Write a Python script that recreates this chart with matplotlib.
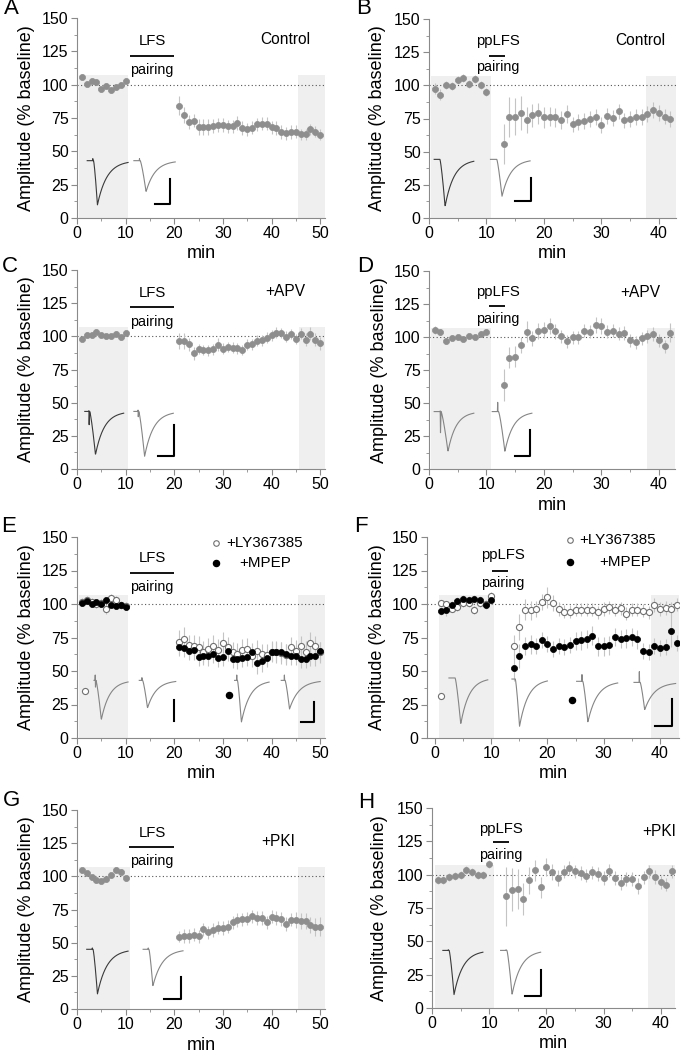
import numpy as np
import matplotlib.pyplot as plt
from matplotlib.ticker import MultipleLocator

plt.rcParams['font.family'] = ['Liberation Sans', 'DejaVu Sans']

# ---- data: EPSC amplitude (% baseline), mean and s.e.m. ----
# A: LFS pairing, control
a_t = np.r_[1:11, 21:51]
a_amp = [105.8, 100.8, 103.0, 102.3, 96.5, 99.3, 96.0, 98.3, 100.0, 103.0,
         84.3, 77.0, 72.0, 73.0, 68.3, 68.0, 68.0, 69.0, 69.8, 69.8,
         68.8, 68.8, 71.3, 67.5, 66.5, 67.8, 70.3, 70.8, 70.8, 68.0,
         67.5, 64.5, 63.5, 64.5, 64.8, 62.8, 62.8, 66.5, 64.8, 62.5]
a_err = [2, 2, 2, 2, 2, 2, 2, 2, 2, 2,
         7, 6, 5, 5, 6, 6, 6, 5, 5, 5,
         5, 5, 5, 5, 5, 5, 5, 5, 5, 5,
         5, 5, 5, 5, 5, 4, 4, 4, 4, 4]

# B: ppLFS pairing, control
b_t = np.r_[1:11, 13:43]
b_amp = [97.5, 93.0, 100.5, 99.8, 103.8, 105.5, 101.3, 104.8, 100.0, 94.8,
         56.0, 76.3, 76.3, 79.3, 73.8, 77.3, 78.8, 76.0, 76.3, 75.8,
         74.0, 78.5, 70.5, 72.3, 73.3, 74.3, 76.0, 69.8, 76.8, 75.3,
         80.3, 73.5, 74.8, 76.0, 75.8, 78.3, 81.3, 78.8, 76.5, 74.8]
b_err = [4, 4, 3, 3, 3, 3, 3, 3, 3, 3,
         15, 15, 14, 13, 10, 9, 8, 8, 7, 7,
         7, 7, 6, 6, 6, 6, 6, 6, 6, 6,
         6, 6, 6, 6, 6, 6, 6, 6, 6, 6]

# C: LFS pairing, +APV
c_t = np.r_[1:11, 21:51]
c_amp = [98.3, 101.0, 101.0, 103.6, 101.0, 100.0, 100.0, 102.0, 99.6, 102.3,
         96.8, 96.8, 94.0, 87.3, 90.5, 89.8, 89.5, 90.3, 93.6, 90.8,
         92.0, 91.5, 91.0, 89.8, 93.8, 94.0, 96.8, 97.0, 99.0, 100.8,
         102.8, 102.6, 99.8, 101.8, 98.0, 102.0, 97.5, 102.0, 97.5, 94.8]
c_err = [2, 2, 2, 2, 2, 2, 2, 2, 2, 2,
         6, 6, 5, 5, 4, 4, 4, 4, 5, 4,
         4, 4, 4, 4, 4, 4, 4, 4, 4, 4,
         4, 4, 4, 4, 4, 4, 5, 5, 5, 5]

# D: ppLFS pairing, +APV
d_t = np.r_[1:11, 13:43]
d_amp = [105.2, 103.7, 96.9, 99.4, 99.7, 98.7, 100.4, 100.2, 102.5, 103.7,
         63.4, 84.3, 85.0, 93.9, 104.0, 98.9, 104.7, 105.2, 108.2, 104.2,
         100.4, 96.6, 99.9, 99.9, 104.7, 104.0, 109.0, 108.2, 104.0, 104.7,
         102.5, 103.0, 97.6, 95.9, 99.0, 100.4, 102.2, 97.4, 92.9, 103.4]
d_err = [3, 2, 2, 2, 2, 2, 2, 2, 2, 2,
         12, 8, 8, 6, 8, 6, 6, 6, 6, 6,
         5, 5, 5, 5, 5, 5, 6, 6, 5, 5,
         5, 5, 5, 5, 5, 5, 5, 5, 5, 7]

# E: LFS pairing, +LY367385 (open) and +MPEP (filled)
e_t = np.r_[1:11, 21:51]
e_ly = [101.2, 103.2, 101.2, 100.2, 100.7, 96.3, 104.5, 102.7, 99.5, 98.8,
        71.9, 73.6, 69.2, 68.9, 67.9, 64.2, 66.4, 68.7, 65.9, 71.1,
        67.7, 63.9, 62.7, 65.7, 66.7, 61.0, 65.2, 62.4, 62.2, 64.4,
        64.2, 63.4, 62.2, 67.7, 65.2, 68.4, 64.4, 71.1, 68.4, 63.9]
e_ly_err = [3, 3, 3, 3, 3, 4, 3, 3, 3, 3,
            9, 9, 8, 8, 8, 8, 8, 8, 8, 8,
            8, 8, 8, 8, 8, 8, 8, 8, 8, 8,
            8, 8, 8, 8, 8, 8, 8, 8, 8, 8]
e_mpep = [100.7, 102.0, 100.0, 101.2, 100.0, 102.7, 99.2, 98.8, 99.5, 97.8,
          67.9, 67.4, 65.2, 65.4, 60.7, 61.4, 61.0, 62.9, 59.7, 60.4,
          64.7, 59.2, 58.7, 60.0, 60.4, 64.2, 56.0, 57.2, 59.7, 64.4,
          64.4, 64.4, 62.9, 61.4, 61.4, 59.0, 59.0, 61.0, 61.0, 64.7]
e_mpep_err = [2, 2, 2, 2, 2, 2, 2, 2, 2, 2,
              7, 7, 7, 7, 7, 7, 7, 7, 7, 7,
              7, 7, 7, 7, 7, 7, 8, 8, 7, 7,
              7, 7, 7, 7, 7, 7, 7, 7, 7, 7]

# F: ppLFS pairing, +LY367385 (open) and +MPEP (filled)
f_t = np.r_[1:11, 14:44]
f_ly = [100.5, 100.0, 96.3, 98.0, 101.0, 101.0, 95.5, 101.0, 100.0, 106.0,
        68.9, 82.8, 95.8, 95.3, 96.3, 101.7, 105.0, 100.7, 96.3, 94.3,
        94.3, 95.8, 95.8, 95.8, 95.8, 93.8, 96.3, 97.5, 95.8, 96.8,
        92.8, 95.8, 95.8, 95.0, 93.8, 99.3, 96.3, 97.0, 96.3, 99.5]
f_ly_err = [2, 2, 2, 3, 3, 3, 3, 3, 3, 3,
            8, 10, 8, 7, 6, 6, 8, 6, 5, 5,
            5, 5, 5, 5, 5, 5, 5, 5, 5, 5,
            5, 5, 5, 5, 5, 5, 5, 5, 5, 5]
f_mpep = [94.8, 95.3, 99.3, 102.0, 103.7, 102.7, 103.7, 103.2, 99.0, 103.2,
          52.5, 61.0, 68.7, 69.9, 68.4, 72.9, 70.1, 66.7, 68.4, 68.2,
          69.2, 72.4, 72.9, 73.9, 76.4, 68.4, 68.4, 69.2, 75.4, 73.9,
          74.4, 75.4, 73.6, 65.2, 64.2, 68.4, 66.9, 67.9, 79.6, 71.1]
f_mpep_err = [3, 4, 3, 3, 3, 3, 3, 3, 3, 3,
              10, 9, 7, 7, 6, 6, 6, 6, 6, 6,
              6, 7, 7, 7, 7, 7, 7, 7, 7, 7,
              7, 7, 7, 6, 6, 6, 6, 6, 12, 6]

# G: LFS pairing, +PKI
g_t = np.r_[1:11, 21:51]
g_amp = [104.5, 102.3, 99.2, 97.2, 96.7, 97.7, 100.8, 104.8, 103.5, 98.7,
         54.5, 55.0, 55.0, 56.0, 54.8, 60.0, 57.8, 59.5, 61.3, 61.0,
         62.0, 65.3, 67.0, 67.5, 68.2, 69.8, 68.6, 68.6, 65.3, 69.6,
         68.6, 67.8, 64.0, 67.3, 66.8, 66.6, 66.3, 63.3, 61.8, 62.0]
g_err = [2, 2, 2, 2, 2, 2, 2, 2, 2, 2,
         4, 5, 5, 5, 5, 5, 5, 5, 5, 5,
         5, 5, 5, 5, 5, 5, 5, 5, 5, 5,
         5, 5, 5, 5, 6, 6, 6, 6, 7, 7]

# H: ppLFS pairing, +PKI
h_t = np.r_[1:11, 13:43]
h_amp = [96.3, 95.8, 98.3, 98.8, 100.0, 103.5, 102.0, 100.0, 100.0, 108.3,
         83.8, 88.8, 89.5, 81.8, 95.8, 103.3, 90.5, 105.8, 101.8, 97.3,
         102.3, 105.0, 102.5, 101.3, 99.3, 101.8, 100.5, 97.5, 103.0, 97.5,
         93.8, 96.8, 96.8, 91.8, 98.0, 102.5, 98.3, 94.3, 92.5, 102.5]
h_err = [3, 3, 3, 3, 3, 3, 3, 3, 3, 3,
         22, 16, 15, 12, 10, 8, 8, 7, 6, 6,
         5, 5, 5, 5, 5, 5, 5, 5, 5, 5,
         5, 5, 5, 6, 5, 5, 5, 5, 5, 5]

FIG_W, FIG_H = 682, 1052
GREY = '#8e8e8e'
AXC = '#8a8a8a'
ERRC = '#c4c4c4'
DARK = '#3a3a3a'
LIGHT = '#858585'

fig = plt.figure(figsize=(FIG_W / 100, FIG_H / 100), dpi=100)


def make_axes(box, xlim, xticks, ylab_px, xlabel=True):
    l, t, r, b = box
    ax = fig.add_axes([l / FIG_W, 1 - b / FIG_H, (r - l) / FIG_W, (b - t) / FIG_H])
    ax.set_xlim(*xlim)
    ax.set_ylim(0, 150)
    for s in ['top', 'right']:
        ax.spines[s].set_visible(False)
    for s in ['left', 'bottom']:
        ax.spines[s].set_color(AXC)
        ax.spines[s].set_linewidth(0.8)
    ax.set_yticks([0, 25, 50, 75, 100, 125, 150])
    ax.yaxis.set_minor_locator(MultipleLocator(12.5))
    ax.set_xticks(xticks)
    ax.xaxis.set_minor_locator(MultipleLocator(5))
    ax.tick_params(which='both', direction='out', color=AXC, labelsize=11.5, pad=2)
    ax.tick_params(which='major', length=4, width=0.8)
    ax.tick_params(which='minor', length=2.5, width=0.6)
    ax.set_ylabel('Amplitude (% baseline)', fontsize=13)
    ax.yaxis.label.set_va('center')
    ax.yaxis.set_label_coords((ylab_px - l) / (r - l), 0.5)
    if xlabel:
        ax.set_xlabel('min', fontsize=13)
        ax.xaxis.label.set_va('center')
        ax.xaxis.set_label_coords(0.5, -36 / (b - t))
    ax.axhline(100, color='#555555', ls=(0, (1, 2.2)), lw=0.8, zorder=1.5)
    return ax


def shade(ax, spans):
    for x0, x1 in spans:
        ax.axvspan(x0, x1, ymin=0, ymax=107 / 150, color='#efefef', lw=0, zorder=0)


def series(ax, t, amp, err, filled=True, color=GREY):
    ax.errorbar(t, amp, yerr=err, fmt='none', ecolor=ERRC, elinewidth=0.8,
                capsize=0, zorder=2)
    if filled:
        ax.plot(t, amp, 'o', ms=4.4, mfc=color, mec=color, mew=0.5, zorder=3)
    else:
        ax.plot(t, amp, 'o', ms=4.4, mfc='white', mec='#707070', mew=0.8, zorder=3)


def protocol(ax, name, xc, y_txt, bar, y_bar, y_pair):
    ax.text(xc, y_txt, name, ha='center', va='center', fontsize=10.7)
    ax.plot(bar, [y_bar, y_bar], color='k', lw=1.3, solid_capstyle='butt')
    ax.text(xc, y_pair, 'pairing', ha='center', va='center', fontsize=10.3)


def trace(ax, spec, color):
    # x0, onset, peak, end, baseline, minimum, artefact up, artefact down
    x0, xon, xpk, x1, base, low, up, down = spec
    xs = np.linspace(xon, x1, 160)
    rise = np.clip((xs - xon) / (xpk - xon), 0, 1) ** 1.3
    decay = np.exp(-np.clip(xs - xpk, 0, None) / ((x1 - xpk) / 3.2))
    ys = base - (base - low) * np.where(xs <= xpk, rise, decay)
    x = np.r_[x0, xon - 0.2, xon - 0.15, xon - 0.1, xs]
    y = np.r_[base, base, base + up, base - down, ys]
    ax.plot(x, y, color=color, lw=0.8, zorder=2.5)


def scalebar(ax, xh0, xv, y0, y1, horizontal=True):
    if horizontal:
        ax.plot([xh0, xv, xv], [y0, y0, y1], color='k', lw=1.5, zorder=2.5)
    else:
        ax.plot([xv, xv], [y0, y1], color='k', lw=1.5, zorder=2.5)


# ---- A ----
ax = make_axes((77, 18, 325, 218), (0, 51), range(0, 51, 10), 27)
shade(ax, [(0.5, 10.5), (45.5, 51)])
series(ax, a_t, a_amp, a_err)
protocol(ax, 'LFS', 15.4, 132.5, [10.85, 19.9], 121.8, 111)
ax.text(42.8, 133.7, 'Control', ha='center', va='center', fontsize=11.2)
trace(ax, (2.1, 3.4, 4.2, 10.5, 43, 9.8, 1.5, 0), DARK)
trace(ax, (11.7, 13.0, 14.2, 20.2, 43, 19.7, 1.5, 0), LIGHT)
scalebar(ax, 16.0, 19.1, 10.3, 29)

# ---- B ----
ax = make_axes((429, 19, 676, 218), (0, 43), range(0, 41, 10), 378)
shade(ax, [(0.3, 10.8), (37.8, 43)])
series(ax, b_t, b_amp, b_err)
protocol(ax, 'ppLFS', 12.0, 133.7, [10.5, 13.3], 121.8, 113.5)
ax.text(36.8, 133.7, 'Control', ha='center', va='center', fontsize=11.2)
trace(ax, (0.9, 1.9, 2.8, 7.8, 44.2, 8.8, 0, 0), DARK)
trace(ax, (10.7, 11.8, 12.7, 17.6, 44.2, 16.2, 0, 0), LIGHT)
scalebar(ax, 14.9, 17.7, 12.5, 30)

# ---- C ----
ax = make_axes((77, 270, 325, 469), (0, 51), range(0, 51, 10), 27, xlabel=False)
shade(ax, [(0.5, 10.5), (45.7, 51)])
series(ax, c_t, c_amp, c_err)
protocol(ax, 'LFS', 15.4, 133, [10.85, 19.9], 122, 111)
ax.text(42.9, 133.7, '+APV', ha='center', va='center', fontsize=11.2)
trace(ax, (1.6, 2.6, 3.8, 9.6, 43.4, 10.8, 0.5, 10), DARK)
trace(ax, (11.7, 12.7, 13.9, 19.8, 43.4, 9.5, 1, 4), LIGHT)
scalebar(ax, 16.7, 19.9, 9.5, 33.4)

# ---- D ----
ax = make_axes((429, 271, 675, 469), (0, 42.8), range(0, 41, 10), 379)
shade(ax, [(0.3, 10.8), (37.9, 42.8)])
series(ax, d_t, d_amp, d_err)
protocol(ax, 'ppLFS', 12.0, 134, [10.4, 13.2], 123.4, 114)
ax.text(36.7, 134, '+APV', ha='center', va='center', fontsize=11.2)
trace(ax, (0.9, 2.1, 3.3, 7.8, 43.5, 13.3, 0.5, 16), LIGHT)
trace(ax, (11.0, 12.1, 13.2, 17.9, 43.5, 13.3, 7, 0), LIGHT)
scalebar(ax, 14.9, 17.6, 9.5, 29.7)

# ---- E ----
ax = make_axes((77, 537, 325, 738), (0, 51), range(0, 51, 10), 27)
shade(ax, [(0.5, 10.5), (45.5, 51)])
series(ax, e_t, e_ly, e_ly_err, filled=False)
series(ax, e_t, e_mpep, e_mpep_err, color='k')
protocol(ax, 'LFS', 15.4, 134, [10.85, 19.9], 123, 113)
ax.plot([28.6], [145.5], 'o', ms=4, mfc='white', mec='#707070', mew=0.8)
ax.text(30.7, 145.5, '+LY367385', ha='left', va='center', fontsize=10.9)
ax.plot([28.6], [130.6], 'o', ms=4.4, color='k')
ax.text(33.4, 130.6, '+MPEP', ha='left', va='center', fontsize=10.9)
ax.plot([1.6], [35.3], 'o', ms=4.4, mfc='white', mec='#707070', mew=0.8)
ax.plot([31.2], [32.3], 'o', ms=4.4, color='k')
trace(ax, (3.5, 3.9, 5.0, 10.5, 43, 13.7, 4, 5), LIGHT)
trace(ax, (12.8, 13.5, 14.5, 20.3, 43, 22.4, 2, 0), LIGHT)
trace(ax, (32.4, 33.0, 33.8, 39.5, 43, 11.7, 4, 0), LIGHT)
trace(ax, (42.0, 42.8, 43.7, 50.0, 43, 21.6, 4, 0), LIGHT)
scalebar(ax, 0, 19.9, 12.4, 28.6, horizontal=False)
scalebar(ax, 46.0, 48.8, 12, 27)

# ---- F ----
ax = make_axes((427, 537, 679, 738), (-1.4, 43.4), range(0, 41, 10), 378)
shade(ax, [(0.8, 10.5), (38.5, 43.4)])
series(ax, f_t, f_ly, f_ly_err, filled=False)
series(ax, f_t, f_mpep, f_mpep_err, color='k')
protocol(ax, 'ppLFS', 12.1, 136.8, [10.2, 13.0], 125, 115.7)
ax.plot([24.0], [147.5], 'o', ms=4, mfc='white', mec='#707070', mew=0.8)
ax.text(25.6, 147.5, '+LY367385', ha='left', va='center', fontsize=10.9)
ax.plot([24.0], [131], 'o', ms=4.4, color='k')
ax.text(29.3, 131, '+MPEP', ha='left', va='center', fontsize=10.9)
ax.plot([1.0], [31.5], 'o', ms=4.4, mfc='white', mec='#707070', mew=0.8)
ax.plot([24.4], [28.1], 'o', ms=4.4, color='k')
trace(ax, (2.5, 3.6, 4.6, 9.4, 44.8, 10.4, 0, 0), LIGHT)
trace(ax, (13.7, 14.3, 15.05, 20.0, 44, 8.7, 0, 0), LIGHT)
trace(ax, (25.2, 26.3, 27.2, 32.5, 42.3, 12, 5, 0), LIGHT)
trace(ax, (35.4, 36.5, 37.3, 42.8, 41.5, 21, 8, 0), LIGHT)
scalebar(ax, 39.2, 42.2, 8.7, 29.4)

# ---- G ----
ax = make_axes((77, 810, 325, 1009), (0, 51), range(0, 51, 10), 27)
shade(ax, [(0.5, 10.8), (45.5, 51)])
series(ax, g_t, g_amp, g_err)
protocol(ax, 'LFS', 15.4, 132.4, [10.7, 19.9], 121.9, 111.8)
ax.text(41.4, 126, '+PKI', ha='center', va='center', fontsize=11.2)
trace(ax, (2.0, 3.3, 4.2, 10.5, 45, 11.3, 1, 0), DARK)
trace(ax, (13.6, 14.8, 15.6, 21.8, 45, 17.3, 1, 0), LIGHT)
scalebar(ax, 17.9, 21.4, 7.3, 24.4)

# ---- H ----
ax = make_axes((432, 808, 675, 1008), (0, 42.5), range(0, 41, 10), 379)
shade(ax, [(0.5, 10.8), (37.8, 42.5)])
series(ax, h_t, h_amp, h_err)
protocol(ax, 'ppLFS', 12.1, 134.2, [10.7, 13.4], 124.5, 115)
ax.text(39.7, 132.5, '+PKI', ha='center', va='center', fontsize=11.2)
trace(ax, (1.9, 3.0, 3.85, 8.9, 43.2, 10, 0.5, 0), DARK)
trace(ax, (12.0, 13.1, 14.0, 19.0, 43.2, 10, 0.5, 0), LIGHT)
scalebar(ax, 16.3, 19.0, 8.75, 28.75)

# panel letters
for letter, x, y in [('A', 11, 9), ('B', 364, 9), ('C', 10, 266), ('D', 365, 266),
                     ('E', 9, 526), ('F', 361, 526), ('G', 11, 801), ('H', 366, 802)]:
    fig.text(x / FIG_W, 1 - y / FIG_H, letter, ha='center', va='center', fontsize=16)

fig.savefig('out.png', dpi=100)
